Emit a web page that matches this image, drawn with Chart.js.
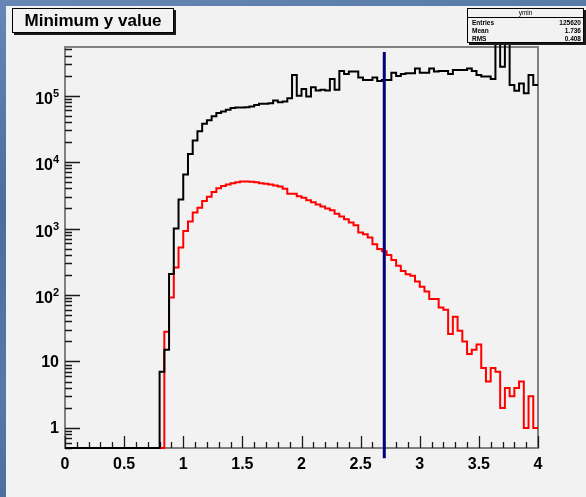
<!DOCTYPE html>
<html>
<head>
<meta charset="utf-8">
<script src="https://cdn.jsdelivr.net/npm/chart.js@4.4.0/dist/chart.umd.min.js"></script>
<style>
  html, body { margin: 0; padding: 0; }
  body {
    width: 586px; height: 497px; overflow: hidden; position: relative;
    background-color: #4d709e;
    background-image: linear-gradient(170deg, #6788b6 0%, #4a6d9c 35%, #5679a8 65%, #43669a 100%);
  }
  #pad { position: absolute; left: 6px; top: 6px; width: 580px; height: 491px; background: #f2f2f2; }
  #chart { position: absolute; left: 0; top: 0; }
  .box {
    position: absolute; box-sizing: border-box; background: #f2f2f2;
    border: 1px solid #000; box-shadow: 2px 2px 0 #1a1a1a;
    font-family: "Liberation Sans", Arial, sans-serif; font-weight: bold; color: #000;
  }
  #title { left: 6px; top: 2px; width: 162px; height: 25px; font-size: 17px; line-height: 23px; text-align: center; }
  #stats { left: 461px; top: 2px; width: 117px; height: 35px; font-size: 6.5px; }
  #stats .head { height: 8px; line-height: 8px; text-align: center; border-bottom: 1px solid #000; font-weight: normal; }
  #stats .row { position: relative; height: 8px; line-height: 8px; padding: 0 4px; }
  #stats .row span:last-child { position: absolute; right: 2px; }
</style>
</head>
<body>
<div id="pad">
  <canvas id="chart" width="580" height="491"></canvas>
  <div id="title" class="box">Minimum y value</div>
  <div id="stats" class="box">
    <div class="head">ymin</div>
    <div class="row" style="margin-top:1px"><span>Entries</span><span>125620</span></div>
    <div class="row"><span>Mean</span><span>1.736</span></div>
    <div class="row"><span>RMS</span><span>0.408</span></div>
  </div>
</div>
<script>
// histogram binning: 100 bins from 0 to 4
const binLow = 0;
const binWidth = 0.04;

// black histogram, counts per bin
const blackCounts = [
  0, 0, 0, 0, 0, 0, 0, 0, 0, 0,
  0, 0, 0, 0, 0, 0, 0, 0, 0, 0,
  7, 15, 207, 1000, 2740, 6500, 13200, 21000, 29000, 37700,
  42400, 48600, 54700, 57500, 61000, 64700, 66000, 66000, 66500, 68400,
  72000, 75000, 75000, 76700, 84200, 79000, 81000, 91000, 204000, 99000,
  125000, 96700, 133000, 119000, 122000, 119000, 178000, 122000, 234000, 211000,
  229000, 229000, 186000, 172000, 172000, 186000, 166000, 172000, 172000, 221000,
  197000, 211000, 216000, 216000, 256000, 221000, 221000, 256000, 229000, 234000,
  234000, 211000, 243000, 243000, 243000, 256000, 234000, 204000, 193000, 193000,
  178000, 620000, 272000, 620000, 144000, 118000, 152000, 108000, 204000, 144000
];

// red histogram (ymin), counts per bin
const redCounts = [
  0, 0, 0, 0, 0, 0, 0, 0, 0, 0,
  0, 0, 0, 0, 0, 0, 0, 0, 0, 0,
  0, 28, 92, 260, 516, 920, 1270, 1740, 2050, 2600,
  3000, 3550, 4050, 4370, 4600, 4800, 4980, 5100, 5100, 5050,
  4950, 4800, 4700, 4600, 4450, 4300, 3950, 3330, 3330, 3070,
  2900, 2650, 2480, 2300, 2150, 2000, 1880, 1670, 1510, 1380,
  1230, 1120, 870, 820, 730, 580, 490, 455, 400, 335,
  275, 230, 205, 195, 160, 133, 113, 87, 87, 65,
  60, 26, 47, 29, 20, 13, 15, 18, 8, 5,
  8, 7, 2, 4, 3, 4, 5, 1, 3, 1
];

// vertical cut line
const cutValue = 2.7;
const cutLineSpan = [452000, 0.35];

// axes
const xRange = [0, 4];
const yRange = [0.5, 537000];
const xLabelValues = [0, 0.5, 1, 1.5, 2, 2.5, 3, 3.5, 4];
const yDecades = [1, 10, 100, 1000, 10000, 100000];

const labelFont = '"Liberation Sans", Arial, sans-serif';

// empty bins sit on the axis minimum, like ROOT draws them
function histPoints(counts) {
  const pts = counts.map((c, i) => ({ x: binLow + i * binWidth, y: c > 0 ? c : yRange[0] }));
  pts.push({ x: binLow + counts.length * binWidth, y: pts[pts.length - 1].y });
  return pts;
}

// frame, tick marks and y labels drawn the ROOT way
const rootAxes = {
  id: 'rootAxes',
  beforeDatasetsDraw(chart) {
    const { ctx, chartArea: a, scales: { x, y } } = chart;
    ctx.save();
    ctx.strokeStyle = '#808080';
    ctx.lineWidth = 2;
    ctx.strokeRect(a.left, a.top, a.right - a.left, a.bottom - a.top);

    ctx.strokeStyle = '#1a1a1a';
    ctx.lineWidth = 1.3;
    ctx.beginPath();
    for (let i = 0; i <= 40; i++) {
      const px = Math.round(x.getPixelForValue(i / 10)) + 0.5;
      const len = i % 5 === 0 ? 12 : 6;
      ctx.moveTo(px, a.bottom);
      ctx.lineTo(px, a.bottom - len);
    }
    for (let e = -1; e <= 5; e++) {
      for (let m = 1; m <= 9; m++) {
        const v = m * Math.pow(10, e);
        if (v < yRange[0] || v > yRange[1]) continue;
        const py = Math.round(y.getPixelForValue(v)) + 0.5;
        ctx.moveTo(a.left, py);
        ctx.lineTo(a.left + (m === 1 ? 15 : 7), py);
      }
    }
    ctx.stroke();
    ctx.restore();
  },
  afterDraw(chart) {
    const { ctx, chartArea: a, scales: { y } } = chart;
    ctx.save();
    ctx.fillStyle = '#000';
    ctx.textBaseline = 'middle';
    yDecades.forEach(v => {
      const py = y.getPixelForValue(v);
      const exp = Math.round(Math.log10(v));
      if (exp < 2) {
        ctx.font = 'bold 16px ' + labelFont;
        ctx.textAlign = 'right';
        ctx.fillText(String(v), a.left - 6, py + 1);
      } else {
        ctx.font = 'bold 16px ' + labelFont;
        ctx.textAlign = 'right';
        ctx.fillText('10', a.left - 12, py + 4);
        ctx.font = 'bold 11px ' + labelFont;
        ctx.textAlign = 'left';
        ctx.fillText(String(exp), a.left - 12, py - 2);
      }
    });
    ctx.restore();
  }
};

new Chart(document.getElementById('chart'), {
  type: 'line',
  data: {
    datasets: [
      {
        label: 'cut',
        data: [{ x: cutValue, y: cutLineSpan[0] }, { x: cutValue, y: cutLineSpan[1] }],
        borderColor: '#00007a',
        borderWidth: 3,
        pointRadius: 0,
        clip: false,
        order: 0
      },
      {
        label: 'all',
        data: histPoints(blackCounts),
        borderColor: '#000000',
        borderWidth: 2,
        pointRadius: 0,
        stepped: 'before',
        clip: { left: 0, top: 5, right: 1, bottom: 1 },
        order: 1
      },
      {
        label: 'ymin',
        data: histPoints(redCounts),
        borderColor: '#ff0000',
        borderWidth: 2,
        pointRadius: 0,
        stepped: 'before',
        clip: { left: 0, top: 1, right: 1, bottom: 1 },
        order: 2
      }
    ]
  },
  options: {
    responsive: false,
    animation: false,
    layout: { padding: { left: 0, top: 41, right: 48, bottom: 0 } },
    plugins: { legend: { display: false }, title: { display: false }, tooltip: { enabled: false } },
    scales: {
      x: {
        type: 'linear',
        min: xRange[0],
        max: xRange[1],
        grid: { display: false },
        border: { display: false },
        afterBuildTicks: scale => { scale.ticks = xLabelValues.map(v => ({ value: v })); },
        afterFit: scale => { scale.height = 49; },
        ticks: {
          callback: v => String(v),
          color: '#000',
          padding: -1,
          maxRotation: 0,
          autoSkip: false,
          font: { family: labelFont, size: 16, weight: 'bold' }
        }
      },
      y: {
        type: 'logarithmic',
        min: yRange[0],
        max: yRange[1],
        grid: { display: false },
        border: { display: false },
        ticks: { display: false },
        afterFit: scale => { scale.width = 59; }
      }
    }
  },
  plugins: [rootAxes]
});
</script>
</body>
</html>
